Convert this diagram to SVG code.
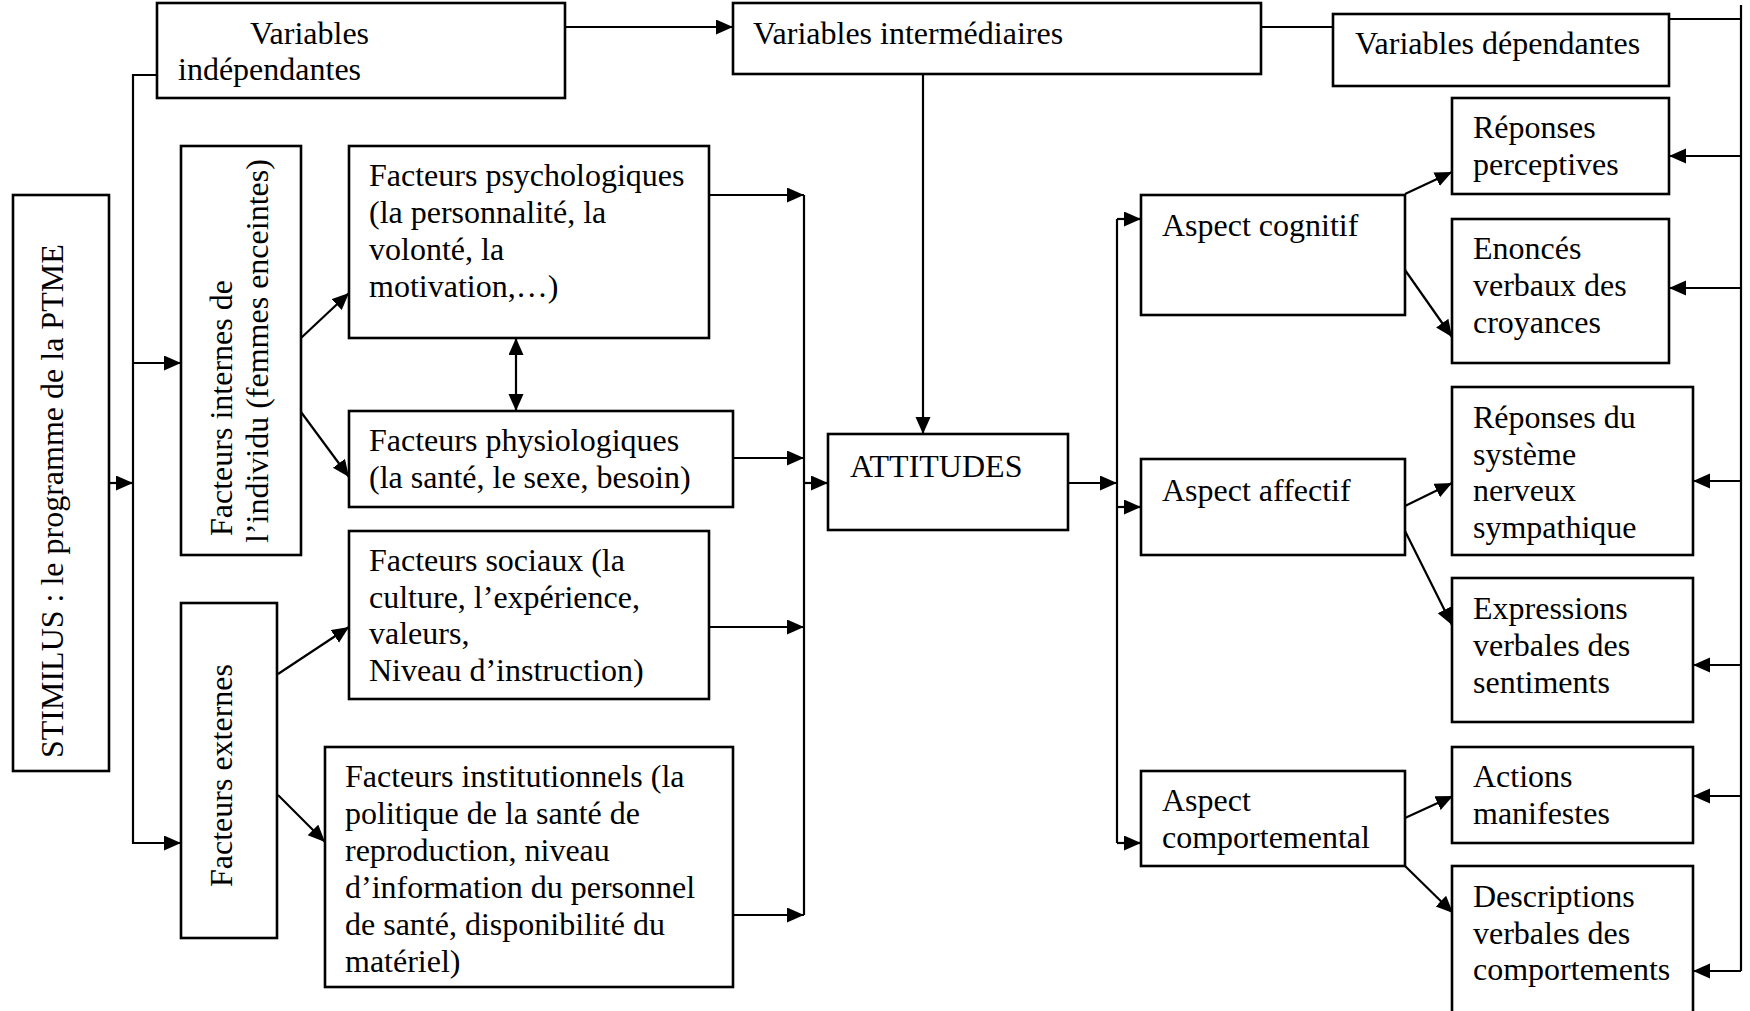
<svg xmlns="http://www.w3.org/2000/svg" width="1750" height="1011" viewBox="0 0 1750 1011">
<style>
.box{fill:#fff;stroke:#000;stroke-width:2.6}
.t{font-family:"Liberation Serif","Times New Roman",serif;font-size:32px;fill:#000}
.c{fill:none;stroke:#000;stroke-width:2.2}
.a{marker-end:url(#ah)}
.d{marker-start:url(#ah);marker-end:url(#ah)}
</style>
<defs>
<marker id="ah" markerUnits="userSpaceOnUse" markerWidth="18" markerHeight="16" refX="17" refY="7.5" orient="auto-start-reverse">
<path d="M0,0 L17,7.5 L0,15 z" fill="#000"/>
</marker>
</defs>
<rect width="1750" height="1011" fill="#fff"/>

<g id="connectors">
<polyline class="c a" points="157,75 133,75 133,843 181,843"/>
<line class="c a" x1="109" y1="483" x2="133" y2="483"/>
<line class="c a" x1="133" y1="363" x2="181" y2="363"/>
<line class="c a" x1="565" y1="27" x2="733" y2="27"/>
<line class="c" x1="1261" y1="27" x2="1333" y2="27"/>
<line class="c a" x1="923" y1="74" x2="923" y2="434"/>
<line class="c a" x1="301" y1="338" x2="349" y2="293"/>
<line class="c a" x1="301" y1="412" x2="349" y2="477"/>
<line class="c d" x1="516" y1="338" x2="516" y2="411"/>
<line class="c a" x1="278" y1="674" x2="349" y2="627"/>
<line class="c a" x1="278" y1="795" x2="325" y2="842"/>
<line class="c" x1="804" y1="195" x2="804" y2="915"/>
<line class="c a" x1="709" y1="195" x2="804" y2="195"/>
<line class="c a" x1="733" y1="458" x2="804" y2="458"/>
<line class="c a" x1="709" y1="627" x2="804" y2="627"/>
<line class="c a" x1="733" y1="915" x2="804" y2="915"/>
<line class="c a" x1="804" y1="483" x2="828" y2="483"/>
<line class="c a" x1="1068" y1="483" x2="1117" y2="483"/>
<line class="c" x1="1117" y1="219" x2="1117" y2="843"/>
<line class="c a" x1="1117" y1="219" x2="1141" y2="219"/>
<line class="c a" x1="1117" y1="507" x2="1141" y2="507"/>
<line class="c a" x1="1117" y1="843" x2="1141" y2="843"/>
<line class="c a" x1="1405" y1="194" x2="1452" y2="172"/>
<line class="c a" x1="1405" y1="270" x2="1452" y2="337"/>
<line class="c a" x1="1405" y1="506" x2="1452" y2="483"/>
<line class="c a" x1="1405" y1="531" x2="1452" y2="625"/>
<line class="c a" x1="1405" y1="818" x2="1453" y2="796"/>
<line class="c a" x1="1405" y1="866" x2="1453" y2="913"/>
<line class="c" x1="1669" y1="19" x2="1741" y2="19"/>
<line class="c" x1="1741" y1="5" x2="1741" y2="971"/>
<line class="c a" x1="1741" y1="156" x2="1669" y2="156"/>
<line class="c a" x1="1741" y1="288" x2="1669" y2="288"/>
<line class="c a" x1="1741" y1="481" x2="1693" y2="481"/>
<line class="c a" x1="1741" y1="665" x2="1693" y2="665"/>
<line class="c a" x1="1741" y1="796" x2="1693" y2="796"/>
<line class="c a" x1="1741" y1="971" x2="1693" y2="971"/>
</g>

<g id="var-independantes"><rect class="box" x="157" y="3" width="408" height="95"/>
<text class="t" x="250" y="44">Variables</text><text class="t" x="178" y="80">indépendantes</text></g>

<g id="var-intermediaires"><rect class="box" x="733" y="3" width="528" height="71"/>
<text class="t" x="753" y="44">Variables intermédiaires</text></g>

<g id="var-dependantes"><rect class="box" x="1333" y="14" width="336" height="72"/>
<text class="t" x="1355" y="54">Variables dépendantes</text></g>

<g id="stimilus"><rect class="box" x="13" y="195" width="96" height="576"/>
<text class="t" transform="translate(63,758) rotate(-90)">STIMILUS : le programme de la PTME</text></g>

<g id="facteurs-internes"><rect class="box" x="181" y="146" width="120" height="409"/>
<text class="t" transform="translate(232,536) rotate(-90)">Facteurs internes de</text>
<text class="t" transform="translate(268,543) rotate(-90)">l’individu (femmes enceintes)</text></g>

<g id="facteurs-externes"><rect class="box" x="181" y="603" width="96" height="335"/>
<text class="t" transform="translate(232,887) rotate(-90)">Facteurs externes</text></g>

<g id="facteurs-psychologiques"><rect class="box" x="349" y="146" width="360" height="192"/>
<text class="t" x="369" y="186">Facteurs psychologiques</text>
<text class="t" x="369" y="223">(la personnalité, la</text>
<text class="t" x="369" y="260">volonté, la</text>
<text class="t" x="369" y="297">motivation,…)</text></g>

<g id="facteurs-physiologiques"><rect class="box" x="349" y="411" width="384" height="96"/>
<text class="t" x="369" y="451">Facteurs physiologiques</text>
<text class="t" x="369" y="488">(la santé, le sexe, besoin)</text></g>

<g id="facteurs-sociaux"><rect class="box" x="349" y="531" width="360" height="168"/>
<text class="t" x="369" y="571">Facteurs sociaux (la</text>
<text class="t" x="369" y="608">culture, l’expérience,</text>
<text class="t" x="369" y="644">valeurs,</text>
<text class="t" x="369" y="681">Niveau d’instruction)</text></g>

<g id="facteurs-institutionnels"><rect class="box" x="325" y="747" width="408" height="240"/>
<text class="t" x="345" y="787">Facteurs institutionnels (la</text>
<text class="t" x="345" y="824">politique de la santé de</text>
<text class="t" x="345" y="861">reproduction, niveau</text>
<text class="t" x="345" y="898">d’information du personnel</text>
<text class="t" x="345" y="935">de santé, disponibilité du</text>
<text class="t" x="345" y="972">matériel)</text></g>

<g id="attitudes"><rect class="box" x="828" y="434" width="240" height="96"/>
<text class="t" x="850" y="477">ATTITUDES</text></g>

<g id="aspect-cognitif"><rect class="box" x="1141" y="195" width="264" height="120"/>
<text class="t" x="1162" y="236">Aspect cognitif</text></g>

<g id="aspect-affectif"><rect class="box" x="1141" y="459" width="264" height="96"/>
<text class="t" x="1162" y="501">Aspect affectif</text></g>

<g id="aspect-comportemental"><rect class="box" x="1141" y="771" width="264" height="95"/>
<text class="t" x="1162" y="811">Aspect</text>
<text class="t" x="1162" y="848">comportemental</text></g>

<g id="reponses-perceptives"><rect class="box" x="1452" y="98" width="217" height="96"/>
<text class="t" x="1473" y="138">Réponses</text>
<text class="t" x="1473" y="175">perceptives</text></g>

<g id="enonces-verbaux"><rect class="box" x="1452" y="219" width="217" height="144"/>
<text class="t" x="1473" y="259">Enoncés</text>
<text class="t" x="1473" y="296">verbaux des</text>
<text class="t" x="1473" y="333">croyances</text></g>

<g id="reponses-systeme"><rect class="box" x="1452" y="387" width="241" height="168"/>
<text class="t" x="1473" y="428">Réponses du</text>
<text class="t" x="1473" y="465">système</text>
<text class="t" x="1473" y="501">nerveux</text>
<text class="t" x="1473" y="538">sympathique</text></g>

<g id="expressions-verbales"><rect class="box" x="1452" y="578" width="241" height="144"/>
<text class="t" x="1473" y="619">Expressions</text>
<text class="t" x="1473" y="656">verbales des</text>
<text class="t" x="1473" y="693">sentiments</text></g>

<g id="actions-manifestes"><rect class="box" x="1452" y="747" width="241" height="96"/>
<text class="t" x="1473" y="787">Actions</text>
<text class="t" x="1473" y="824">manifestes</text></g>

<g id="descriptions-verbales"><rect class="box" x="1452" y="866" width="241" height="160"/>
<text class="t" x="1473" y="907">Descriptions</text>
<text class="t" x="1473" y="944">verbales des</text>
<text class="t" x="1473" y="980">comportements</text></g>
</svg>
